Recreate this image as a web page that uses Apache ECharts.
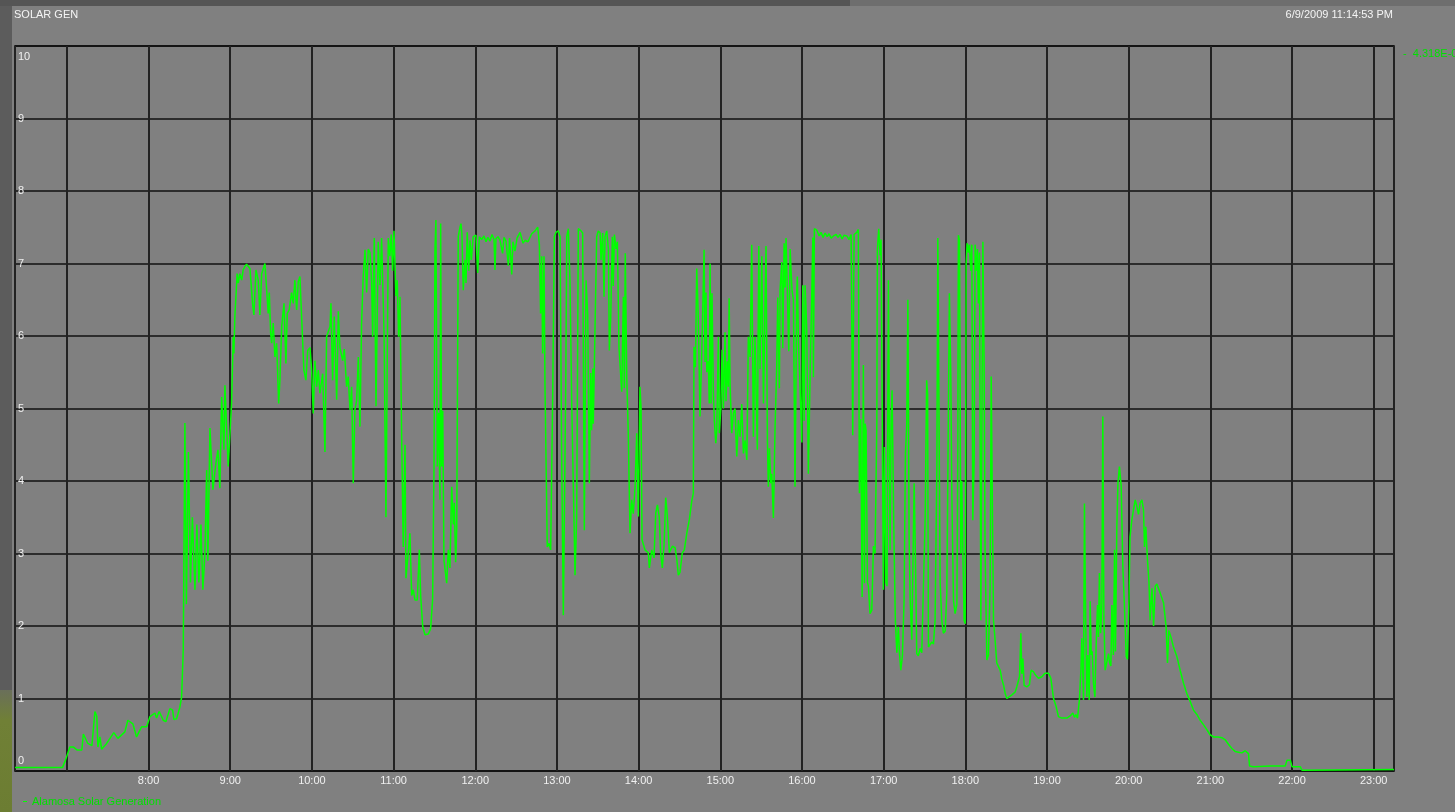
<!DOCTYPE html>
<html>
<head>
<meta charset="utf-8">
<title>SOLAR GEN</title>
<script src="https://cdn.jsdelivr.net/npm/echarts@6/dist/echarts.min.js"></script>
<style>
  html, body { margin: 0; padding: 0; background: #808080; overflow: hidden; }
  #chart { width: 1455px; height: 812px; }
</style>
</head>
<body>
<div id="chart"></div>
<script>
// ---- chart text ----
const chartTitle = 'SOLAR GEN';
const stampText = '6/9/2009 11:14:53 PM';
const seriesName = 'Alamosa Solar Generation';
const lastValueText = '-  4.318E-03';

// ---- axes ----
const hourLabels = ['8:00', '9:00', '10:00', '11:00', '12:00', '13:00', '14:00', '15:00',
  '16:00', '17:00', '18:00', '19:00', '20:00', '21:00', '22:00', '23:00'];
const yMin = 0, yMax = 10, yStep = 1;
// trend window, minutes after midnight (06:21:54 .. 23:14:53)
const windowStartMinute = 381.9;
const windowEndMinute = 1394.9;

// ---- samples: minute of day, generation ----
const sampleMinute = [
  381.9, 416.8, 419.0, 422.2, 425.0, 427.4, 431.0, 432.1, 435.4, 438.4, 440.6, 442.0, 442.8, 444.3, 445.5,
  449.2, 454.5, 457.5, 462.6, 464.8, 468.5, 471.2, 474.9, 478.6, 481.0, 484.7, 485.9, 487.8, 490.8, 492.7,
  495.7, 497.7, 498.6, 500.6, 503.0, 504.3, 505.5, 506.7, 507.8, 509.3, 510.8, 512.2, 514.1, 515.5, 517.0,
  518.5, 519.9, 521.4, 522.7, 523.6, 525.1, 527.3, 529.5, 531.0, 532.4, 533.7, 535.4, 536.1, 538.5, 541.0,
  542.2, 542.7, 543.4, 545.1, 545.9, 547.1, 548.4, 549.5, 550.8, 552.0, 554.5, 556.5, 557.4, 558.9, 560.6,
  561.8, 563.1, 565.5, 567.9, 568.7, 569.7, 570.4, 571.6, 572.8, 574.1, 575.6, 576.5, 577.8, 579.5, 580.9,
  581.9, 583.3, 585.1, 586.3, 587.5, 588.8, 590.0, 591.2, 592.5, 594.1, 595.6, 596.9, 598.6, 599.8, 601.0,
  602.2, 603.5, 604.7, 605.9, 607.9, 609.6, 610.8, 613.3, 614.0, 615.2, 616.4, 618.2, 619.4, 620.6, 622.6,
  623.8, 625.5, 626.7, 628.0, 629.2, 630.4, 631.6, 632.9, 634.1, 635.3, 636.5, 637.7, 639.0, 640.2, 641.4,
  642.7, 643.9, 644.6, 645.8, 647.1, 648.7, 650.0, 651.2, 653.0, 654.4, 656.1, 657.3, 658.3, 659.3, 660.3,
  661.7, 662.7, 663.7, 664.7, 665.9, 667.1, 668.4, 669.1, 670.1, 672.0, 673.3, 674.5, 675.7, 677.4, 678.9,
  679.9, 681.4, 683.1, 685.5, 687.2, 688.7, 689.7, 690.4, 691.1, 692.1, 693.1, 694.1, 694.6, 695.3, 696.1,
  697.0, 699.0, 700.2, 701.4, 702.7, 703.9, 704.6, 705.6, 706.4, 707.5, 708.8, 709.5, 710.2, 711.2, 712.5,
  713.2, 714.1, 715.2, 716.1, 717.1, 718.5, 720.5, 721.8, 723.0, 724.7, 726.4, 727.9, 729.3, 730.8, 732.3,
  733.8, 734.5, 735.2, 736.7, 738.2, 740.1, 741.1, 742.6, 744.3, 745.2, 746.8, 747.7, 749.2, 750.7, 752.9,
  755.1, 756.5, 758.7, 761.5, 763.9, 765.9, 767.1, 768.0, 768.8, 769.5, 770.5, 771.2, 772.9, 774.2, 775.4,
  776.9, 778.1, 779.3, 781.0, 782.3, 783.4, 784.7, 786.5, 787.2, 788.4, 789.6, 790.9, 793.3, 794.5, 795.7,
  797.0, 797.7, 798.9, 800.1, 801.4, 802.6, 803.8, 804.8, 805.5, 806.3, 806.7, 809.2, 810.4, 811.7, 812.4,
  813.6, 814.6, 815.3, 816.6, 817.8, 818.5, 819.5, 820.7, 821.4, 822.2, 823.4, 824.4, 825.6, 827.6, 828.8,
  829.5, 830.2, 831.3, 832.4, 833.7, 834.9, 836.1, 837.4, 838.6, 839.8, 841.0, 841.8, 842.5, 844.7, 847.1,
  847.9, 849.6, 851.3, 852.6, 853.8, 855.2, 856.2, 857.4, 858.7, 859.9, 861.1, 862.6, 863.6, 864.8, 866.8,
  868.0, 869.2, 870.4, 872.1, 873.6, 875.4, 877.3, 879.0, 880.2, 880.7, 881.7, 882.7, 883.9, 885.1, 886.4,
  888.1, 888.8, 889.5, 890.1, 891.2, 891.9, 892.5, 893.2, 893.9, 894.9, 895.6, 896.7, 897.4, 898.6, 899.3,
  900.4, 901.3, 902.3, 903.5, 904.2, 905.2, 905.9, 906.5, 907.2, 908.4, 909.6, 910.8, 912.1, 913.3, 914.5,
  915.8, 917.0, 918.2, 919.5, 920.6, 921.9, 923.1, 924.3, 925.5, 927.2, 928.3, 929.2, 930.5, 931.7, 932.9,
  933.6, 934.6, 935.3, 936.1, 937.1, 937.8, 939.0, 940.2, 941.5, 942.2, 943.4, 943.9, 945.2, 945.9, 946.9,
  947.6, 948.3, 949.3, 950.3, 951.3, 952.0, 952.7, 953.7, 954.9, 956.2, 956.6, 957.4, 958.6, 959.9, 960.6,
  961.6, 962.3, 963.5, 964.7, 966.0, 967.2, 968.0, 968.4, 969.1, 970.9, 972.6, 974.0, 975.5, 977.0, 978.5,
  979.9, 981.4, 983.1, 985.1, 986.5, 988.0, 989.5, 990.9, 992.9, 994.6, 996.1, 997.3, 998.3, 1000.3, 1001.4,
  1002.2, 1003.2, 1004.2, 1005.1, 1005.9, 1006.4, 1007.1, 1008.1, 1008.8, 1010.0, 1011.3, 1012.5, 1013.7, 1015.0, 1015.4,
  1016.4, 1017.4, 1018.1, 1018.8, 1019.8, 1020.6, 1021.6, 1022.5, 1023.5, 1024.0, 1024.7, 1025.5, 1026.2, 1026.7, 1027.7,
  1028.6, 1029.7, 1030.8, 1031.6, 1032.6, 1033.8, 1035.0, 1036.0, 1037.0, 1037.8, 1038.7, 1039.5, 1040.7, 1041.6, 1042.4,
  1043.3, 1044.3, 1045.5, 1046.8, 1048.0, 1049.2, 1050.5, 1051.6, 1052.3, 1052.9, 1054.1, 1055.4, 1056.6, 1057.8, 1059.1,
  1059.8, 1060.8, 1061.5, 1062.7, 1063.9, 1065.2, 1066.4, 1067.6, 1068.3, 1069.3, 1070.1, 1071.3, 1072.5, 1073.8, 1074.5,
  1074.9, 1075.7, 1076.7, 1077.4, 1078.2, 1079.1, 1079.9, 1080.6, 1081.3, 1082.3, 1083.0, 1084.0, 1084.8, 1085.5, 1086.5,
  1087.2, 1088.0, 1088.9, 1089.6, 1090.4, 1091.4, 1092.1, 1092.9, 1093.8, 1094.5, 1095.8, 1097.0, 1098.2, 1099.0, 1099.7,
  1100.7, 1101.9, 1103.1, 1104.1, 1105.6, 1106.8, 1108.0, 1109.3, 1110.5, 1111.7, 1114.2, 1116.6, 1117.8, 1119.8, 1120.8,
  1121.5, 1122.3, 1123.2, 1125.2, 1127.1, 1128.3, 1130.0, 1131.3, 1133.7, 1136.2, 1138.6, 1141.1, 1142.8, 1144.8, 1146.7,
  1148.4, 1150.9, 1154.6, 1157.0, 1159.0, 1160.2, 1161.2, 1162.4, 1163.8, 1164.9, 1165.6, 1166.8, 1167.5, 1168.5, 1169.3,
  1170.0, 1171.0, 1171.7, 1172.5, 1173.2, 1174.1, 1175.2, 1176.1, 1177.1, 1177.8, 1178.5, 1179.4, 1180.3, 1181.0, 1181.8,
  1182.7, 1184.0, 1185.2, 1185.9, 1186.9, 1187.7, 1188.8, 1189.6, 1190.3, 1191.3, 1192.1, 1193.2, 1194.5, 1195.7, 1196.7,
  1198.2, 1199.1, 1200.2, 1201.0, 1202.3, 1203.5, 1204.8, 1206.0, 1207.2, 1208.5, 1209.7, 1210.9, 1211.6, 1212.6, 1213.8,
  1214.9, 1215.8, 1217.1, 1218.3, 1219.5, 1220.7, 1223.2, 1225.6, 1227.5, 1228.5, 1229.5, 1231.0, 1232.9, 1235.4, 1237.8,
  1240.3, 1242.7, 1245.2, 1247.6, 1250.1, 1252.5, 1254.9, 1257.4, 1259.8, 1262.3, 1265.8, 1268.5, 1270.9, 1273.3, 1275.8,
  1278.2, 1280.7, 1283.2, 1285.6, 1288.0, 1288.8, 1291.7, 1304.0, 1315.0, 1316.3, 1318.7, 1320.0, 1326.0, 1327.3, 1394.9
];
const solarOutput = [
  0.05, 0.05, 0.15, 0.33, 0.33, 0.29, 0.29, 0.51, 0.38, 0.35, 0.82, 0.75, 0.33, 0.47, 0.30,
  0.38, 0.53, 0.45, 0.54, 0.70, 0.65, 0.47, 0.61, 0.61, 0.75, 0.80, 0.73, 0.82, 0.70, 0.68,
  0.86, 0.84, 0.71, 0.72, 0.88, 1.02, 1.67, 4.80, 2.30, 4.40, 2.60, 3.50, 2.50, 3.40, 2.60,
  3.40, 2.50, 3.00, 4.15, 2.90, 4.73, 3.88, 4.25, 4.43, 3.90, 5.16, 4.43, 5.32, 4.20, 5.07,
  5.99, 5.76, 6.27, 6.86, 6.73, 6.86, 6.77, 6.91, 6.96, 6.99, 6.93, 6.43, 6.29, 6.91, 6.77,
  6.29, 6.86, 7.00, 6.31, 6.60, 6.04, 5.90, 6.18, 5.71, 5.90, 5.07, 5.39, 6.13, 6.45, 5.62,
  6.31, 6.36, 6.60, 6.45, 6.77, 6.36, 6.75, 6.82, 6.82, 5.53, 5.39, 5.80, 5.84, 5.53, 4.93,
  5.66, 5.30, 5.53, 5.21, 5.48, 4.40, 5.99, 6.13, 6.45, 5.39, 6.27, 5.12, 6.34, 5.84, 5.66,
  5.82, 5.30, 5.44, 4.98, 5.30, 3.97, 4.98, 5.12, 5.71, 4.75, 6.18, 6.82, 7.19, 6.60, 7.20,
  7.15, 6.73, 5.99, 7.35, 5.03, 7.30, 6.70, 7.35, 6.04, 3.50, 7.35, 7.10, 7.40, 6.90, 7.45,
  6.55, 6.77, 5.99, 6.54, 4.66, 3.09, 4.50, 2.66, 2.67, 3.28, 2.42, 2.50, 2.36, 2.36, 3.05,
  2.42, 1.99, 1.88, 1.89, 1.96, 2.37, 4.20, 7.19, 7.60, 4.20, 4.94, 3.74, 7.55, 4.20, 4.97,
  2.91, 2.59, 3.05, 2.80, 3.92, 3.40, 3.70, 2.88, 3.35, 7.37, 7.50, 7.55, 7.41, 6.63, 7.05,
  6.73, 7.43, 6.90, 7.32, 7.05, 7.37, 7.39, 6.87, 7.37, 7.33, 7.38, 7.30, 7.36, 7.31, 7.40,
  7.33, 6.91, 7.34, 7.37, 7.32, 7.14, 7.36, 7.31, 6.97, 7.35, 6.85, 7.30, 7.17, 7.35, 7.43,
  7.28, 7.32, 7.30, 7.41, 7.45, 7.50, 7.26, 6.31, 7.10, 5.76, 7.10, 5.35, 3.09, 3.14, 3.05,
  5.21, 7.37, 7.43, 7.45, 7.37, 4.50, 2.15, 5.40, 7.37, 7.48, 6.74, 5.04, 2.70, 3.50, 7.48,
  7.50, 7.45, 7.42, 3.32, 6.77, 6.30, 3.97, 5.49, 4.70, 5.55, 4.79, 7.37, 7.45, 7.42, 7.05,
  7.42, 6.54, 7.37, 7.45, 7.20, 5.80, 6.25, 7.37, 6.69, 7.40, 7.20, 7.30, 5.84, 5.23, 6.54,
  5.28, 7.14, 5.43, 4.66, 3.28, 3.74, 3.55, 3.92, 4.66, 3.51, 5.30, 5.01, 3.19, 3.05, 3.01,
  2.80, 3.05, 2.94, 3.56, 3.67, 3.50, 3.01, 2.80, 3.12, 3.77, 3.52, 3.01, 3.00, 3.10, 3.08,
  2.93, 2.70, 2.74, 3.01, 3.05, 3.28, 3.47, 3.72, 3.83, 5.85, 5.57, 6.93, 6.21, 4.89, 5.77,
  7.19, 5.64, 6.60, 5.50, 5.65, 5.07, 7.00, 5.07, 6.59, 5.26, 4.84, 4.52, 4.70, 5.99, 4.66,
  5.00, 5.81, 5.00, 6.05, 5.10, 5.65, 5.30, 6.52, 5.33, 4.66, 4.93, 5.00, 4.34, 4.84, 4.61,
  5.06, 4.38, 4.56, 4.29, 5.99, 5.71, 7.26, 4.61, 5.99, 4.43, 7.24, 5.54, 7.10, 5.07, 6.48,
  7.24, 4.56, 3.92, 4.45, 3.97, 4.10, 3.49, 4.71, 5.62, 6.53, 5.28, 6.63, 7.02, 5.83, 7.28,
  6.67, 7.35, 7.37, 5.79, 7.20, 6.90, 6.63, 6.50, 3.92, 6.63, 6.82, 5.94, 5.30, 4.53, 6.70,
  4.83, 6.70, 6.10, 4.10, 5.49, 6.58, 7.36, 5.43, 7.48, 7.46, 7.38, 7.43, 7.36, 7.42, 7.37,
  7.41, 7.35, 7.38, 7.40, 7.36, 7.40, 7.34, 7.39, 7.38, 7.33, 7.40, 4.63, 7.40, 7.43, 7.47,
  3.83, 4.85, 2.40, 5.60, 2.59, 4.79, 4.70, 2.60, 2.55, 2.17, 2.22, 3.10, 3.00, 4.80, 7.19,
  7.48, 7.11, 7.33, 5.39, 2.50, 4.47, 2.60, 2.55, 6.77, 6.77, 3.05, 4.84, 5.25, 4.47, 3.05,
  2.08, 1.63, 1.99, 1.63, 1.39, 1.59, 2.35, 4.38, 4.80, 6.50, 3.24, 2.35, 1.81, 1.80, 3.97,
  3.00, 1.62, 1.59, 1.69, 1.63, 1.65, 3.50, 5.39, 5.20, 1.71, 1.71, 1.78, 1.75, 2.08, 4.20,
  7.35, 4.50, 2.60, 2.08, 1.90, 1.93, 2.45, 2.45, 6.59, 5.50, 3.80, 2.35, 2.17, 2.30, 4.50,
  7.39, 7.32, 3.00, 4.00, 3.00, 2.08, 2.03, 7.00, 7.28, 7.15, 7.26, 6.90, 7.26, 3.46, 4.30,
  7.26, 6.90, 7.20, 6.45, 7.15, 2.08, 4.50, 7.30, 5.60, 3.05, 1.53, 1.60, 2.54, 5.44, 4.00,
  2.08, 1.80, 1.49, 1.45, 1.39, 1.27, 1.19, 1.07, 1.00, 0.98, 1.05, 1.09, 1.16, 1.30, 1.90,
  1.34, 1.55, 1.18, 1.16, 1.19, 1.39, 1.37, 1.33, 1.28, 1.30, 1.35, 1.35, 1.28, 1.00, 0.89,
  0.75, 0.73, 0.73, 0.76, 0.80, 0.74, 0.78, 0.73, 0.98, 1.39, 1.83, 0.98, 3.69, 1.95, 1.02,
  1.60, 0.98, 2.34, 1.60, 1.65, 1.21, 1.02, 1.74, 2.29, 1.85, 2.73, 1.90, 2.30, 4.89, 2.10,
  1.39, 1.37, 1.62, 1.50, 1.45, 2.29, 1.60, 3.05, 1.65, 3.37, 3.97, 4.20, 3.93, 2.82, 2.36,
  1.58, 1.54, 2.36, 3.23, 3.46, 3.60, 3.74, 3.65, 3.54, 3.70, 3.74, 3.60, 3.09, 3.37, 2.91,
  2.61, 2.08, 2.52, 2.00, 2.55, 2.58, 2.45, 2.32, 1.99, 1.49, 1.94, 1.85, 1.71, 1.58, 1.39,
  1.21, 1.07, 0.96, 0.84, 0.78, 0.70, 0.64, 0.57, 0.50, 0.47, 0.47, 0.46, 0.43, 0.37, 0.31,
  0.27, 0.26, 0.25, 0.28, 0.24, 0.07, 0.06, 0.07, 0.07, 0.15, 0.15, 0.06, 0.06, 0.01, 0.02
];

// ---- build ----
const dayStart = new Date(2009, 5, 9, 0, 0, 0).getTime();
const minuteToTime = m => dayStart + Math.round(m * 60000);
const seriesData = sampleMinute.map((m, i) => [minuteToTime(m), solarOutput[i]]);

const FONT = '"Liberation Sans", Arial, sans-serif';
const GREEN = '#00ff00';
const LABEL = '#f0f0f0';

const chart = echarts.init(document.getElementById('chart'), null, { renderer: 'canvas' });

chart.setOption({
  animation: false,
  backgroundColor: '#808080',
  textStyle: { fontFamily: FONT },
  title: {
    text: chartTitle,
    left: 14, top: 9, padding: 0,
    textStyle: { color: '#f4f4f4', fontSize: 11, fontWeight: 'normal', fontFamily: FONT }
  },
  legend: {
    data: [seriesName],
    left: 23, top: 796, padding: 0,
    icon: 'rect', itemWidth: 4, itemHeight: 1,
    selectedMode: false,
    textStyle: { color: '#00e000', fontSize: 11, fontFamily: FONT }
  },
  graphic: [
    // window frame around the trend panel
    { type: 'rect', shape: { x: 0, y: 0, width: 12, height: 812 }, style: { fill: '#5c5c5c' }, silent: true },
    { type: 'rect', shape: { x: 0, y: 690, width: 12, height: 122 },
      style: { fill: new echarts.graphic.LinearGradient(0, 0, 0, 1, [
        { offset: 0, color: '#6a6f5a' }, { offset: 0.25, color: '#708036' }, { offset: 1, color: '#6c7d32' }]) },
      silent: true },
    { type: 'rect', shape: { x: 0, y: 0, width: 850, height: 6 }, style: { fill: '#555555' }, silent: true },
    { type: 'rect', shape: { x: 850, y: 0, width: 605, height: 6 }, style: { fill: '#6e6e6e' }, silent: true },
    { type: 'text', x: 1393, y: 15, silent: true,
      style: { text: stampText, fill: '#f4f4f4', font: '11px ' + FONT, textAlign: 'right', textVerticalAlign: 'middle' } },
    { type: 'text', x: 1403, y: 54, silent: true,
      style: { text: lastValueText, fill: '#00e000', font: '11px ' + FONT, textAlign: 'left', textVerticalAlign: 'middle' } }
  ],
  grid: {
    left: 15, top: 46, right: 61, bottom: 41,
    show: true, backgroundColor: '#808080', borderColor: '#000000', borderWidth: 1.5,
    containLabel: false
  },
  xAxis: {
    type: 'time',
    min: minuteToTime(windowStartMinute),
    max: minuteToTime(windowEndMinute),
    minInterval: 3600000,
    maxInterval: 3600000,
    splitNumber: 17,
    axisLine: { show: false },
    axisTick: { show: false },
    splitLine: { show: true, lineStyle: { color: '#222222', width: 2 } },
    axisLabel: {
      show: true, margin: 4, color: LABEL, fontSize: 11, fontFamily: FONT,
      showMinLabel: false, showMaxLabel: false, hideOverlap: false,
      formatter: v => {
        const d = new Date(v);
        const s = d.getHours() + ':' + String(d.getMinutes()).padStart(2, '0');
        return hourLabels.includes(s) ? s : '';
      }
    }
  },
  yAxis: {
    type: 'value',
    min: yMin, max: yMax, interval: yStep,
    axisLine: { show: false },
    axisTick: { show: false },
    splitLine: { show: true, lineStyle: { color: '#111111', width: 1.5 } },
    axisLabel: {
      inside: true, margin: 3, color: LABEL, fontSize: 11, fontFamily: FONT,
      formatter: v => v === yMax ? '{top|' + v + '}' : (v === yMin ? '{bot|' + v + '}' : String(v)),
      rich: {
        top: { color: LABEL, fontSize: 11, fontFamily: FONT, padding: [21, 0, 0, 0] },
        bot: { color: LABEL, fontSize: 11, fontFamily: FONT, padding: [0, 0, 20, 0] }
      }
    }
  },
  series: [{
    name: seriesName,
    type: 'line',
    data: seriesData,
    showSymbol: false,
    symbol: 'none',
    smooth: false,
    color: GREEN,
    lineStyle: { color: GREEN, width: 1.5 },
    z: 3
  }]
});
</script>
</body>
</html>
